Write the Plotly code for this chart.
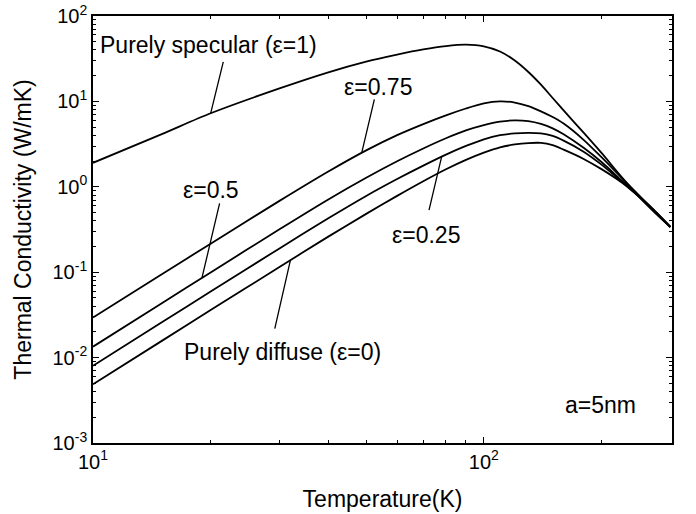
import numpy as np
import plotly.graph_objects as go

# Temperature grid (K)
temperature = [10, 15, 20, 30, 40, 50, 60, 70, 80, 90, 100, 110, 120, 130, 140,
               150, 160, 180, 200, 225, 250, 275, 300]

# Thermal conductivity (W/mK) for each specularity parameter
k_specular = [1.91, 4.14, 7.26, 14.19, 21.9, 29.2, 35.3, 40.6, 44.4, 46.1, 44.2, 38.4,
              30.1, 22.1, 15.7, 10.96, 7.85, 4.30, 2.49, 1.31, 0.759, 0.490, 0.339]
k_eps075 = [0.0295, 0.0948, 0.216, 0.684, 1.51, 2.67, 4.03, 5.43, 6.87, 8.26, 9.48, 10.0,
            9.70, 8.81, 7.65, 6.56, 5.50, 3.55, 2.22, 1.28, 0.787, 0.510, 0.338]
k_eps050 = [0.01343, 0.0434, 0.0993, 0.318, 0.711, 1.276, 1.99, 2.81, 3.70, 4.57, 5.27, 5.79,
            6.00, 5.86, 5.44, 4.84, 4.12, 2.86, 1.95, 1.19, 0.766, 0.508, 0.338]
k_eps025 = [0.00804, 0.0259, 0.0594, 0.190, 0.428, 0.782, 1.233, 1.77, 2.38, 3.01, 3.60, 4.02,
            4.22, 4.29, 4.23, 3.94, 3.47, 2.58, 1.82, 1.16, 0.764, 0.509, 0.340]
k_diffuse = [0.00486, 0.0157, 0.0360, 0.115, 0.261, 0.482, 0.783, 1.161, 1.603, 2.065, 2.51, 2.90,
             3.13, 3.25, 3.27, 3.07, 2.72, 2.12, 1.61, 1.13, 0.759, 0.508, 0.341]

x_tick_vals = [10, 100]
x_tick_text = ["10<sup>1</sup>", "10<sup>2</sup>"]
y_tick_vals = [1e-3, 1e-2, 1e-1, 1e0, 1e1, 1e2]
y_tick_text = ["10<sup>-3</sup>", "10<sup>-2</sup>", "10<sup>-1</sup>",
               "10<sup>0</sup>", "10<sup>1</sup>", "10<sup>2</sup>"]
x_minor = [20, 30, 40, 50, 60, 70, 80, 90, 200]
y_minor = [m * 10.0 ** e for e in range(-3, 2) for m in range(2, 10)]

FONT = "Liberation Sans, Arial, sans-serif"

fig = go.Figure()
for ks in [k_specular, k_eps075, k_eps050, k_eps025, k_diffuse]:
    fig.add_trace(go.Scatter(x=temperature, y=ks, mode="lines",
                             line=dict(color="black", width=1.8, shape="spline", smoothing=0.8),
                             showlegend=False, hoverinfo="skip"))


def on_curve(T, ks):
    return float(np.interp(np.log10(T), np.log10(temperature), np.log10(ks)))


# leader lines: (tip temperature, curve, pixel offset to the line's start)
leaders = [(20, k_specular, 13, -53),
           (48.7, k_eps075, 13, -55),
           (19, k_eps050, 18, -76),
           (78, k_eps025, -13, 55),
           (32, k_diffuse, -16, 70)]
annotations = []
for T, ks, ax, ay in leaders:
    annotations.append(dict(x=np.log10(T), y=on_curve(T, ks), xref="x", yref="y",
                            text="", showarrow=True, arrowhead=0, arrowwidth=1.3,
                            arrowcolor="black", ax=ax, ay=ay, standoff=0))

labels = [("Purely specular (ε=1)", 1.2954, 1.660),
          ("ε=0.75", 1.730, 1.169),
          ("ε=0.5", 1.303, -0.0375),
          ("ε=0.25", 1.853, -0.564),
          ("Purely diffuse (ε=0)", 1.485, -1.934),
          ("a=5nm", 2.299, -2.555)]
for txt, lx, ly in labels:
    annotations.append(dict(x=lx, y=ly, xref="x", yref="y", text=txt, showarrow=False,
                            xanchor="center", yanchor="middle",
                            font=dict(family=FONT, size=23, color="black")))

axis_common = dict(type="log", showgrid=False, zeroline=False, showline=True,
                   linecolor="black", linewidth=1.6, mirror="allticks",
                   ticks="inside", ticklen=6, tickwidth=1.3, tickcolor="black",
                   automargin=False, ticklabeloverflow="allow",
                   tickfont=dict(family=FONT, size=20, color="black"))

fig.update_xaxes(range=[1, np.log10(303)], tickmode="array", tickvals=x_tick_vals,
                 ticktext=x_tick_text,
                 minor=dict(tickmode="array", tickvals=x_minor, ticks="inside",
                            ticklen=3, tickwidth=1.1, tickcolor="black"),
                 title=dict(text="Temperature(K)", font=dict(family=FONT, size=23, color="black"),
                            standoff=19),
                 **axis_common)
fig.update_yaxes(range=[-3, 2], tickmode="array", tickvals=y_tick_vals,
                 ticktext=y_tick_text,
                 minor=dict(tickmode="array", tickvals=y_minor, ticks="inside",
                            ticklen=3, tickwidth=1.1, tickcolor="black"),
                 title=dict(text="Thermal Conductivity (W/mK)",
                            font=dict(family=FONT, size=23, color="black"), standoff=14),
                 **axis_common)

fig.update_layout(width=696, height=514, margin=dict(l=93, r=24, t=16, b=71),
                  paper_bgcolor="white", plot_bgcolor="white",
                  annotations=annotations, showlegend=False)

# remove the default page margin so the figure fills the window exactly
fig.write_html("out.html", config={"displayModeBar": False},
               post_script="document.body.style.margin='0';")
